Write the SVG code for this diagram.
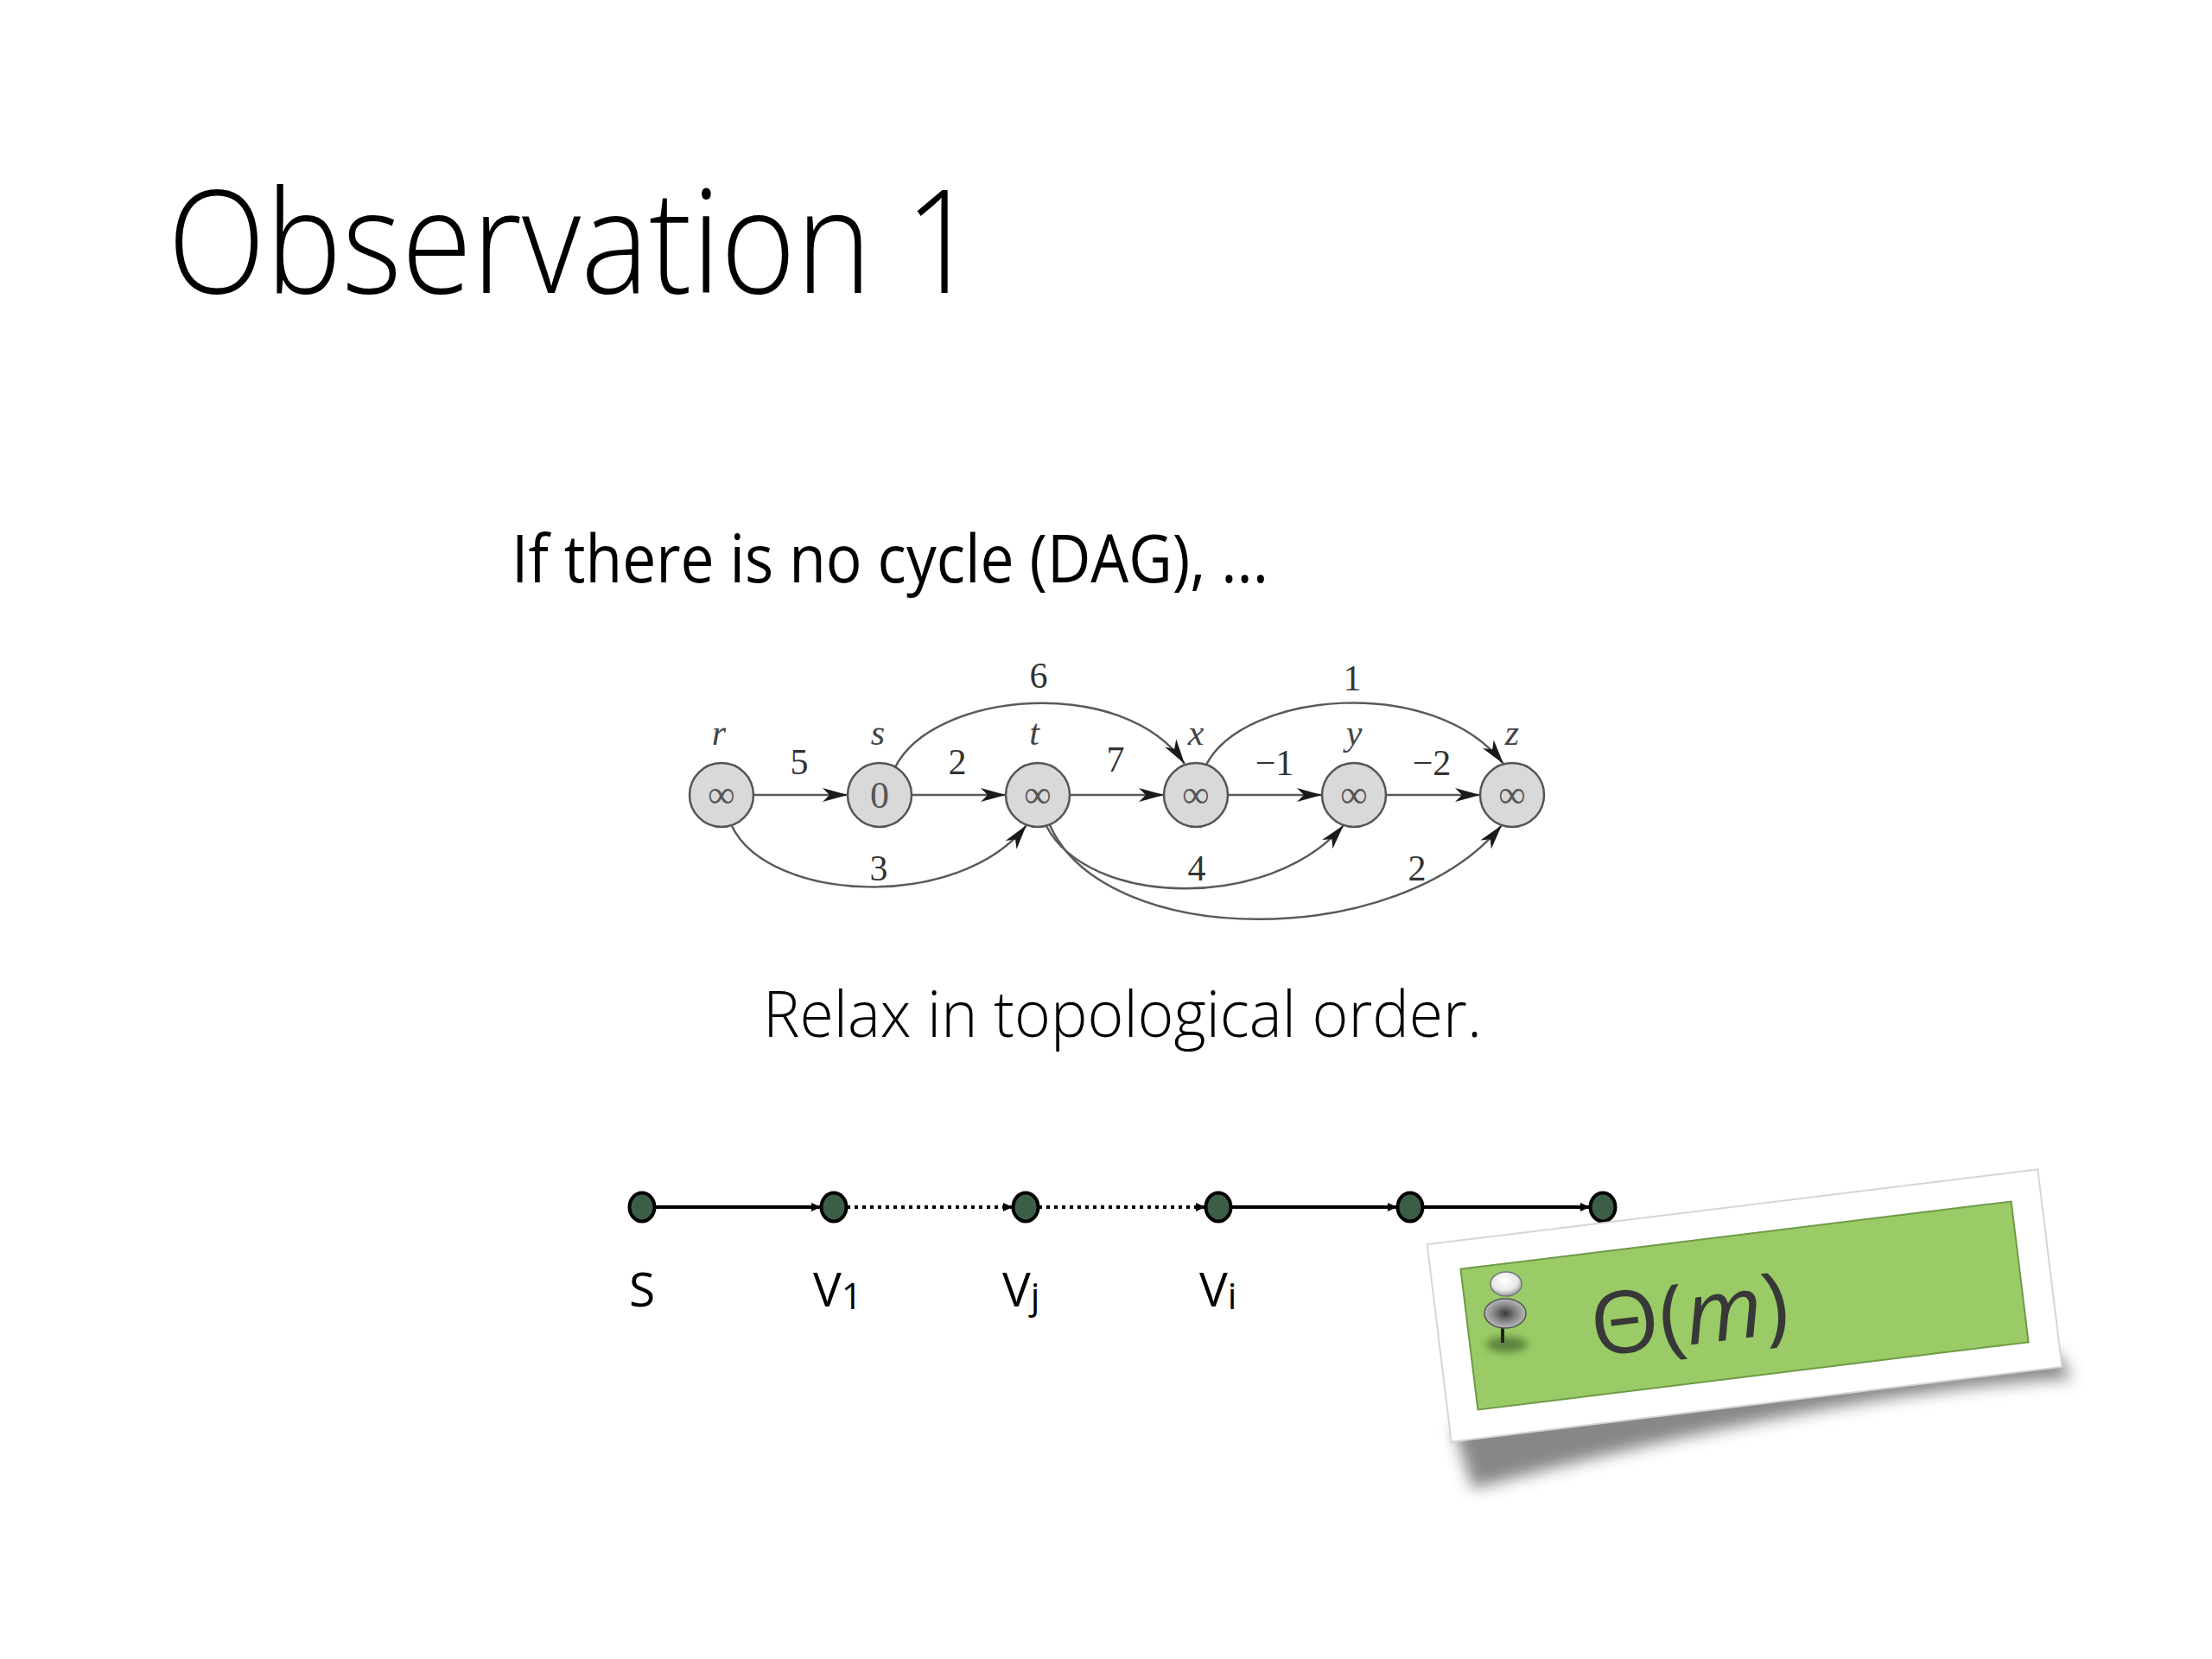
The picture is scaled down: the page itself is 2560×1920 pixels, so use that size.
<svg xmlns="http://www.w3.org/2000/svg" width="2560" height="1920" viewBox="0 0 2560 1920">
<style>
.sans{font-family:"Open Sans","Noto Sans","Liberation Sans",sans-serif;fill:#000}
.light{font-weight:300}
.node circle{fill:#d9d9d9;stroke:#555;stroke-width:2.5}
.inf{font-family:"Liberation Serif","DejaVu Serif",serif;font-size:44px;fill:#555;text-anchor:middle}
.nlab{font-family:"Liberation Serif","DejaVu Serif",serif;font-style:italic;font-size:42px;fill:#444;text-anchor:middle}
.elab{font-family:"Liberation Serif","DejaVu Serif",serif;font-size:42px;fill:#333;text-anchor:middle}
.edge{fill:none;stroke:#5a5a5a;stroke-width:2.5;marker-end:url(#arr)}
.chain{fill:none;stroke:#000;stroke-width:4;marker-end:url(#sarr)}
.dotted{stroke-dasharray:4 5}
.cdot{fill:#3d5e46;stroke:#000;stroke-width:4}
.clab{font-family:"Open Sans","Noto Sans","Liberation Sans",sans-serif;font-size:55px;fill:#000}
</style>
<defs>
<marker id="arr" markerUnits="userSpaceOnUse" markerWidth="32" markerHeight="18" refX="29" refY="8" orient="auto">
<path d="M0,0 L29,8 L0,16 L8,8 Z" fill="#1a1a1a"/>
</marker>
<marker id="sarr" markerUnits="userSpaceOnUse" markerWidth="12" markerHeight="12" refX="11" refY="6" orient="auto">
<path d="M0,1 L11,6 L0,11 Z" fill="#000"/>
</marker>
<filter id="blur" x="-20%" y="-50%" width="140%" height="200%">
<feGaussianBlur stdDeviation="9"/>
</filter>
<filter id="blur2" x="-50%" y="-50%" width="200%" height="200%">
<feGaussianBlur stdDeviation="4"/>
</filter>
<radialGradient id="pinHead" cx="0.45" cy="0.35" r="0.7">
<stop offset="0" stop-color="#ffffff"/>
<stop offset="0.6" stop-color="#e8e8e8"/>
<stop offset="1" stop-color="#8a8a8a"/>
</radialGradient>
<radialGradient id="pinBody" cx="0.5" cy="0.5" r="0.6">
<stop offset="0" stop-color="#3a3a3a"/>
<stop offset="0.5" stop-color="#8c8c8c"/>
<stop offset="1" stop-color="#cfcfcf"/>
</radialGradient>
</defs>
<rect width="2560" height="1920" fill="#ffffff"/>

<g id="title">
<text class="sans light" x="194" y="339" font-size="166" textLength="938" lengthAdjust="spacingAndGlyphs">Observation 1</text>
</g>
<g id="sentence1">
<text class="sans" x="592" y="674" font-size="77" textLength="876" lengthAdjust="spacingAndGlyphs">If there is no cycle (DAG), ...</text>
</g>
<g id="sentence2">
<text class="sans light" x="883" y="1200" font-size="73" textLength="832" lengthAdjust="spacingAndGlyphs">Relax in topological order.</text>
</g>

<g id="dag-edges">
<line class="edge" x1="872" y1="920" x2="981" y2="920"/>
<line class="edge" x1="1055" y1="920" x2="1164" y2="920"/>
<line class="edge" x1="1238" y1="920" x2="1347" y2="920"/>
<line class="edge" x1="1421" y1="920" x2="1530" y2="920"/>
<line class="edge" x1="1604" y1="920" x2="1713" y2="920"/>
<path class="edge" d="M1036,888 C1080,800 1300,780 1371,884"/>
<path class="edge" d="M1396,885 C1440,800 1660,780 1740,884"/>
<path class="edge" d="M847,956 C890,1045 1110,1055 1188,955"/>
<path class="edge" d="M1211,956 C1260,1050 1470,1055 1555,955"/>
<path class="edge" d="M1215,955 C1280,1100 1620,1100 1738,955"/>
</g>
<g id="dag-edge-labels">
<text class="elab" x="925" y="896">5</text>
<text class="elab" x="1108" y="896">2</text>
<text class="elab" x="1291" y="893">7</text>
<text class="elab" x="1475" y="897">−1</text>
<text class="elab" x="1657" y="897">−2</text>
<text class="elab" x="1202" y="796">6</text>
<text class="elab" x="1565" y="799">1</text>
<text class="elab" x="1017" y="1019">3</text>
<text class="elab" x="1385" y="1019">4</text>
<text class="elab" x="1640" y="1019">2</text>
</g>
<g id="node-r" class="node"><circle cx="835" cy="920" r="37"/><text class="inf" x="835" y="934">∞</text><text class="nlab" x="832" y="862">r</text></g>
<g id="node-s" class="node"><circle cx="1018" cy="920" r="37"/><text class="inf" x="1018" y="935">0</text><text class="nlab" x="1016" y="862">s</text></g>
<g id="node-t" class="node"><circle cx="1201" cy="920" r="37"/><text class="inf" x="1201" y="934">∞</text><text class="nlab" x="1197" y="862">t</text></g>
<g id="node-x" class="node"><circle cx="1384" cy="920" r="37"/><text class="inf" x="1384" y="934">∞</text><text class="nlab" x="1384" y="862">x</text></g>
<g id="node-y" class="node"><circle cx="1567" cy="920" r="37"/><text class="inf" x="1567" y="934">∞</text><text class="nlab" x="1567" y="862">y</text></g>
<g id="node-z" class="node"><circle cx="1750" cy="920" r="37"/><text class="inf" x="1750" y="934">∞</text><text class="nlab" x="1750" y="862">z</text></g>

<g id="chain-edges">
<line class="chain" x1="758" y1="1397" x2="950" y2="1397"/>
<line class="chain dotted" x1="980" y1="1397" x2="1172" y2="1397"/>
<line class="chain dotted" x1="1202" y1="1397" x2="1395" y2="1397"/>
<line class="chain" x1="1425" y1="1397" x2="1617" y2="1397"/>
<line class="chain" x1="1647" y1="1397" x2="1840" y2="1397"/>
</g>
<g id="chain-s"><ellipse class="cdot" cx="743" cy="1397" rx="14.5" ry="16.5"/><text class="clab" x="728" y="1512">S</text></g>
<g id="chain-v1"><ellipse class="cdot" cx="965" cy="1397" rx="14.5" ry="16.5"/><text class="clab" x="941" y="1512">V<tspan font-size="42" dy="3">1</tspan></text></g>
<g id="chain-vj"><ellipse class="cdot" cx="1187" cy="1397" rx="14.5" ry="16.5"/><text class="clab" x="1160" y="1512">V<tspan font-size="42" dy="3">j</tspan></text></g>
<g id="chain-vi"><ellipse class="cdot" cx="1410" cy="1397" rx="14.5" ry="16.5"/><text class="clab" x="1388" y="1512">V<tspan font-size="42" dy="3">i</tspan></text></g>
<g id="chain-v5"><ellipse class="cdot" cx="1632" cy="1397" rx="14.5" ry="16.5"/></g>
<g id="chain-v6"><ellipse class="cdot" cx="1855" cy="1397" rx="14.5" ry="16.5"/></g>

<g id="note-card">
<g transform="translate(2019,1511) rotate(-7)">
<path d="M-352,98 L352,98 L366,130 Q100,112 -338,172 Z" fill="#555" opacity="0.7" filter="url(#blur)"/>
<rect x="-356" y="-115" width="712" height="230" fill="#ffffff" stroke="#d6d6d6" stroke-width="2"/>
<rect x="-321" y="-82" width="642" height="164" fill="#9acb66" stroke="#6f9a48" stroke-width="2"/>
</g>
<g id="pushpin">
<ellipse cx="1744" cy="1556" rx="24" ry="9" fill="#2f4a1c" opacity="0.55" filter="url(#blur2)"/>
<rect x="1737" y="1532" width="4" height="22" fill="#222"/>
<ellipse cx="1742" cy="1520" rx="24" ry="17" fill="url(#pinBody)" stroke="#555" stroke-width="1.5"/>
<ellipse cx="1743" cy="1486" rx="18" ry="14" fill="url(#pinHead)" stroke="#777" stroke-width="1.5"/>
</g>
<text transform="translate(1845,1570) rotate(-7)" font-family="'Open Sans','Noto Sans','Liberation Sans',sans-serif" font-size="100" fill="#383838" textLength="230" lengthAdjust="spacingAndGlyphs">Θ(<tspan font-style="italic">m</tspan>)</text>
</g>
</svg>
